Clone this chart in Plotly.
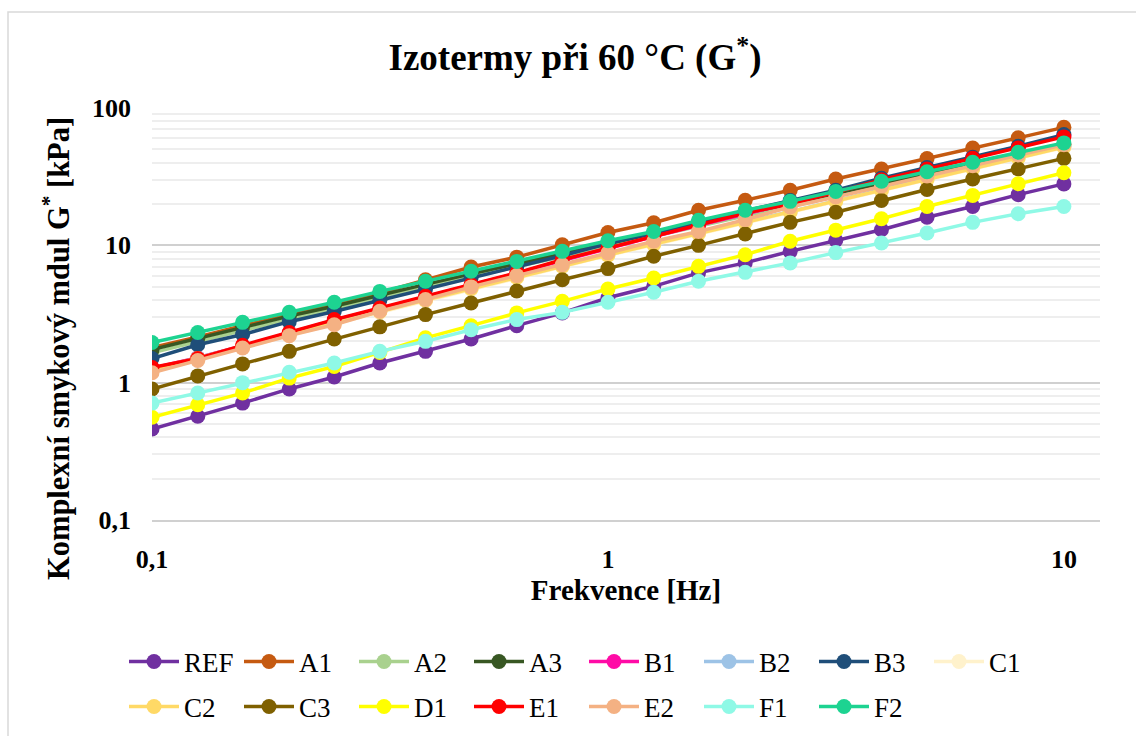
import plotly.graph_objects as go

# Frequency sweep [Hz]
freq = [0.1, 0.126, 0.158, 0.2, 0.251, 0.316, 0.398, 0.501, 0.631, 0.794, 1.0,
        1.26, 1.58, 2.0, 2.51, 3.16, 3.98, 5.01, 6.31, 7.94, 10.0]

# Complex shear modulus G* [kPa] per sample
REF = [0.46, 0.57, 0.71, 0.90, 1.10, 1.39, 1.69, 2.08, 2.60, 3.22, 4.15, 5.03, 6.30, 7.45, 9.04, 10.9, 13.0, 16.0, 19.2, 23.4, 28.0]
A1 = [1.80, 2.15, 2.60, 3.10, 3.70, 4.50, 5.62, 6.96, 8.20, 10.1, 12.4, 14.6, 18.0, 21.3, 25.2, 30.4, 36.0, 42.8, 51.2, 60.6, 72.3]
A2 = [1.65, 2.00, 2.42, 2.90, 3.45, 4.15, 4.95, 5.90, 7.00, 8.30, 9.90, 11.7, 13.9, 16.5, 19.5, 23.0, 27.3, 32.2, 38.0, 45.0, 53.0]
A3 = [1.74, 2.10, 2.55, 3.05, 3.60, 4.35, 5.20, 6.20, 7.35, 8.70, 10.3, 12.2, 14.5, 17.2, 20.3, 24.0, 28.5, 33.5, 39.5, 46.5, 54.5]
B1 = [1.27, 1.52, 1.85, 2.30, 2.85, 3.45, 4.20, 5.10, 6.25, 7.75, 9.50, 11.6, 14.0, 17.0, 20.2, 24.5, 30.0, 36.4, 43.5, 52.0, 62.8]
B2 = [1.25, 1.52, 1.85, 2.26, 2.75, 3.32, 4.02, 4.88, 5.90, 7.10, 8.55, 10.3, 12.3, 14.8, 17.6, 21.0, 25.5, 30.5, 36.5, 44.0, 52.6]
B3 = [1.50, 1.89, 2.24, 2.78, 3.30, 3.98, 4.80, 5.80, 7.00, 8.40, 10.3, 12.3, 14.8, 17.8, 21.2, 25.2, 30.8, 36.8, 43.7, 52.6, 64.0]
C1 = [1.22, 1.48, 1.80, 2.20, 2.68, 3.25, 3.95, 4.80, 5.80, 7.00, 8.45, 10.1, 12.1, 14.6, 17.4, 20.8, 25.0, 30.0, 36.0, 43.0, 51.5]
C2 = [1.24, 1.50, 1.83, 2.23, 2.72, 3.30, 4.00, 4.85, 5.85, 7.05, 8.50, 10.2, 12.2, 14.7, 17.5, 21.0, 25.2, 30.2, 36.2, 43.5, 52.0]
C3 = [0.90, 1.12, 1.37, 1.69, 2.08, 2.55, 3.13, 3.80, 4.65, 5.62, 6.77, 8.32, 10.0, 12.1, 14.7, 17.4, 21.2, 25.5, 30.4, 36.0, 43.0]
D1 = [0.56, 0.69, 0.84, 1.08, 1.31, 1.66, 2.12, 2.60, 3.22, 3.91, 4.81, 5.79, 7.03, 8.55, 10.7, 12.9, 15.6, 19.2, 23.1, 28.1, 33.8]
E1 = [1.29, 1.50, 1.87, 2.32, 2.88, 3.50, 4.25, 5.15, 6.30, 7.85, 9.57, 11.7, 14.2, 17.2, 20.0, 24.3, 30.0, 36.0, 43.0, 51.2, 61.6]
E2 = [1.18, 1.45, 1.79, 2.20, 2.64, 3.31, 4.03, 4.98, 6.02, 7.23, 8.80, 10.7, 12.6, 15.4, 19.0, 22.5, 27.0, 32.0, 38.0, 45.5, 54.0]
F1 = [0.71, 0.84, 1.00, 1.19, 1.39, 1.69, 2.00, 2.43, 2.88, 3.25, 3.85, 4.55, 5.47, 6.36, 7.45, 8.85, 10.4, 12.3, 14.7, 17.0, 19.2]
F2 = [1.96, 2.32, 2.75, 3.25, 3.85, 4.62, 5.47, 6.47, 7.64, 9.04, 10.8, 12.6, 15.2, 18.0, 20.9, 24.7, 29.3, 34.3, 40.3, 47.6, 55.7]

series_names = ["REF", "A1", "A2", "A3", "B1", "B2", "B3", "C1",
                "C2", "C3", "D1", "E1", "E2", "F1", "F2"]
series_values = [REF, A1, A2, A3, B1, B2, B3, C1, C2, C3, D1, E1, E2, F1, F2]
series_colors = ["#7030A0", "#C55A11", "#A9D18E", "#385723", "#FF0BA6",
                 "#9DC3E6", "#1F4E79", "#FFF2CC", "#FFD966", "#7F6000",
                 "#FFFF00", "#FF0000", "#F4B183", "#8FF9E6", "#1DD391"]

x_ticks = [0.1, 1, 10]
x_ticktext = ["0,1", "1", "10"]
y_ticks = [0.1, 1, 10, 100]
y_ticktext = ["0,1", "1", "10", "100"]

SERIF = "Liberation Serif"
W, H = 1136, 736
ML, MR, MT, MB = 152, 36, 108, 216
PER_ROW = 8


def px_to_paper(px, py):
    return ((px - ML) / (W - ML - MR), ((H - MB) - py) / (H - MT - MB))


fig = go.Figure()
for i, (name, vals, col) in enumerate(zip(series_names, series_values, series_colors)):
    fig.add_trace(go.Scatter(
        x=freq, y=vals, name=name, mode="lines+markers",
        line=dict(color=col, width=3.5),
        marker=dict(color=col, size=15),
        legend="legend" if i < PER_ROW else "legend2",
    ))

bx0, by0 = px_to_paper(8, 12)
bx1, by1 = px_to_paper(1140, 742)
ytx, yty = px_to_paper(56, 349)

legend_common = dict(orientation="h", xanchor="left", yanchor="middle",
                     entrywidth=50, entrywidthmode="pixels", itemwidth=50,
                     bgcolor="rgba(0,0,0,0)",
                     font=dict(family=SERIF, size=27, color="black"))
lx = px_to_paper(124, 0)[0]

fig.update_layout(
    width=W, height=H,
    margin=dict(l=ML, r=MR, t=MT, b=MB, autoexpand=False),
    paper_bgcolor="white", plot_bgcolor="white",
    separators=", ",
    title=dict(text="<b>Izotermy při 60 °C (G<sup>*</sup>)</b>",
               x=575 / W, xref="container", xanchor="center",
               y=1 - 57 / H, yanchor="middle",
               font=dict(family=SERIF, size=37, color="black")),
    xaxis=dict(type="log", range=[-1, 1.0792],
               tickvals=x_ticks, ticktext=x_ticktext,
               showgrid=False, zeroline=False,
               showline=True, linecolor="#D0D0D0", linewidth=1.5,
               ticks="", ticklabelstandoff=15,
               tickfont=dict(family=SERIF, size=26, color="black", weight="bold"),
               title=dict(text="<b>Frekvence [Hz]</b>", standoff=6,
                          font=dict(family=SERIF, size=29, color="black"))),
    yaxis=dict(type="log", range=[-1, 2],
               tickvals=y_ticks, ticktext=y_ticktext,
               showgrid=True, gridcolor="#D0D0D0", gridwidth=1.5,
               minor=dict(dtick="D1", showgrid=True, gridcolor="#EEEEEE", gridwidth=1.5, ticks=""),
               zeroline=False, showline=False,
               ticks="", ticklabelstandoff=20,
               tickfont=dict(family=SERIF, size=26, color="black", weight="bold")),
    annotations=[dict(text="<b>Komplexní smykový mdul G<sup>*</sup> [kPa]</b>",
                      xref="paper", yref="paper", x=ytx, y=yty,
                      xanchor="center", yanchor="middle", textangle=-90,
                      showarrow=False,
                      font=dict(family=SERIF, size=30.5, color="black"))],
    legend=dict(x=lx, y=px_to_paper(0, 662)[1], **legend_common),
    legend2=dict(x=lx, y=px_to_paper(0, 707)[1], **legend_common),
    shapes=[dict(type="rect", xref="paper", yref="paper",
                 x0=bx0, y0=by0, x1=bx1, y1=by1,
                 line=dict(color="#D9D9D9", width=1.5), layer="below")],
)

fig.write_html("out.html")
